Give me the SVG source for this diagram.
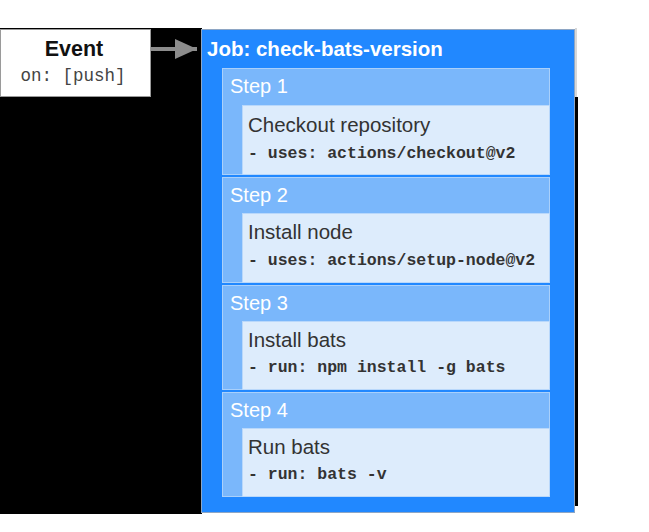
<svg xmlns="http://www.w3.org/2000/svg" width="649" height="532" viewBox="0 0 649 532">
<defs>
<style>
.hdr{fill:#7ab7fb;stroke:#a9d0fb;stroke-width:1}
.cnt{fill:#ddecfc;stroke:#b9d8fb;stroke-width:1}
.lbl{font-family:"Liberation Sans",Arial,sans-serif;font-size:20px;fill:#ffffff}
.ttl{font-family:"Liberation Sans",Arial,sans-serif;font-size:20.5px;fill:#333333}
.code{font-family:"Liberation Mono","Courier New",monospace;font-size:16.5px;font-weight:bold;fill:#333333}
</style>
<marker id="ah" markerWidth="6" markerHeight="5" refX="5.5" refY="2.5" orient="auto" markerUnits="strokeWidth">
<polygon points="0,0 5.5,2.5 0,5" fill="#8c8c8c"/>
</marker>
</defs>
<rect x="0" y="0" width="649" height="532" fill="#ffffff"/>
<rect x="0" y="28" width="202" height="486" fill="#000000"/>
<rect x="574" y="97" width="4" height="409" fill="#000000"/>
<rect x="575" y="28" width="2" height="69" fill="#d8d8d8"/>
<g id="connectors">
<line x1="151" y1="49" x2="197" y2="49" stroke="#8c8c8c" stroke-width="4" marker-end="url(#ah)"/>
</g>
<g id="event">
<rect x="0.5" y="29.5" width="150" height="67" fill="#ffffff" stroke="#9a9a9a"/>
<text x="74" y="56" text-anchor="middle" font-family="Liberation Sans,Arial,sans-serif" font-size="21.5" font-weight="bold" fill="#111111">Event</text>
<text x="73" y="81" text-anchor="middle" font-family="Liberation Mono,Courier New,monospace" font-size="17.5" fill="#444444">on: [push]</text>
</g>
<g id="job">
<rect x="201.5" y="29.5" width="373" height="483" fill="#2188ff" stroke="#8ea6c4"/>
<text x="207" y="56" font-family="Liberation Sans,Arial,sans-serif" font-size="20.5" font-weight="bold" fill="#ffffff">Job: check-bats-version</text>
</g>
<g id="step1">
<rect class="hdr" x="222.5" y="68.5" width="327" height="106"/>
<rect class="cnt" x="242.5" y="105.5" width="307" height="69"/>
<text class="lbl" x="230" y="93">Step 1</text>
<text class="ttl" x="248" y="132">Checkout repository</text>
<text class="code" x="248" y="158">- uses: actions/checkout@v2</text>
</g>
<g id="step2">
<rect class="hdr" x="222.5" y="177.5" width="327" height="105"/>
<rect class="cnt" x="242.5" y="213.5" width="307" height="69"/>
<text class="lbl" x="230" y="202">Step 2</text>
<text class="ttl" x="248" y="239">Install node</text>
<text class="code" x="248" y="265">- uses: actions/setup-node@v2</text>
</g>
<g id="step3">
<rect class="hdr" x="222.5" y="285.5" width="327" height="104"/>
<rect class="cnt" x="242.5" y="321.5" width="307" height="68"/>
<text class="lbl" x="230" y="310">Step 3</text>
<text class="ttl" x="248" y="347">Install bats</text>
<text class="code" x="248" y="372">- run: npm install -g bats</text>
</g>
<g id="step4">
<rect class="hdr" x="222.5" y="392.5" width="327" height="104"/>
<rect class="cnt" x="242.5" y="428.5" width="307" height="68"/>
<text class="lbl" x="230" y="417">Step 4</text>
<text class="ttl" x="248" y="454">Run bats</text>
<text class="code" x="248" y="479">- run: bats -v</text>
</g>
</svg>
